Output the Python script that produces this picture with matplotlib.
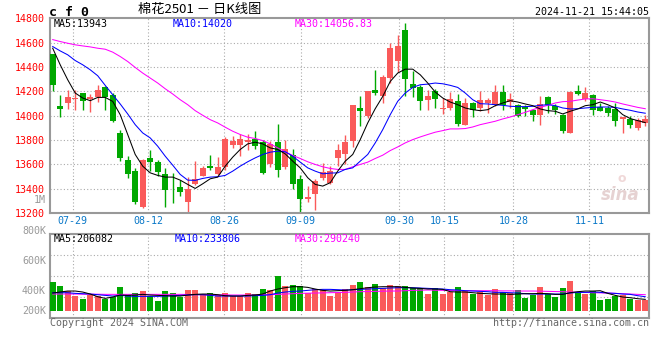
import matplotlib
matplotlib.use('Agg')

import numpy as np
import matplotlib.pyplot as plt

# cotton 2501 daily candles, oldest first (last bar is 2024-11-21)
open_ = [14505, 14080, 14100, 14135, 14184, 14135, 14155, 14237, 14172, 13858,
         13634, 13544, 13249, 13650, 13615, 13520, 13392, 13414, 13290, 13435,
         13505, 13585, 13520, 13580, 13760, 13760, 13785, 13812, 13780, 13600,
         13782, 13575, 13675, 13477, 13316, 13360, 13488, 13450, 13650, 13685,
         13790, 14063, 13995, 14213, 14164, 14309, 14453, 14704, 14262, 14232,
         14126, 14205, 14052, 14060, 14123, 13926, 14104, 14060, 14101, 14090,
         14194, 14109, 14090, 14071, 14044, 14008, 14156, 14082, 14008, 13855,
         14205, 14139, 14172, 14068, 14063, 14055, 13973, 13976, 13899, 13940]
high = [14510, 14170, 14212, 14210, 14190, 14180, 14250, 14240, 14186, 13885,
        13667, 13571, 13645, 13715, 13635, 13568, 13525, 13475, 13495, 13625,
        13585, 13675, 13662, 13822, 13835, 13853, 13850, 13875, 13800, 13795,
        13935, 13800, 13722, 13510, 13420, 13478, 13607, 13585, 13770, 13840,
        14090, 14158, 14200, 14377, 14336, 14601, 14664, 14765, 14363, 14249,
        14208, 14221, 14145, 14194, 14180, 14145, 14109, 14205, 14145, 14254,
        14249, 14186, 14095, 14090, 14058, 14164, 14160, 14096, 14014, 14200,
        14254, 14237, 14175, 14104, 14077, 14104, 13988, 13995, 13981, 14008]
low = [14205, 13988, 14056, 14048, 14045, 14030, 14115, 14045, 13950, 13631,
       13490, 13271, 13245, 13545, 13505, 13252, 13283, 13338, 13200, 13430,
       13503, 13557, 13510, 13552, 13738, 13670, 13720, 13730, 13520, 13580,
       13495, 13560, 13400, 13210, 13290, 13225, 13470, 13440, 13585, 13600,
       13740, 13918, 13981, 14167, 14104, 14268, 14358, 14164, 14150, 14049,
       14044, 14063, 14014, 14049, 13918, 13925, 13986, 14036, 14022, 14077,
       14044, 14063, 13992, 13995, 13959, 13926, 14022, 14014, 13861, 13855,
       14167, 14123, 14008, 14036, 13995, 13918, 13858, 13899, 13880, 13913]
close = [14249, 14058, 14156, 14145, 14120, 14150, 14210, 14155, 13955, 13648,
         13522, 13290, 13634, 13622, 13538, 13385, 13385, 13375, 13400, 13483,
         13566, 13572, 13574, 13805, 13793, 13810, 13800, 13750, 13530, 13765,
         13550, 13722, 13442, 13313, 13332, 13462, 13540, 13548, 13720, 13785,
         14085, 14036, 14199, 14186, 14314, 14560, 14573, 14300, 14227, 14117,
         14164, 14137, 14066, 14137, 13934, 14101, 14047, 14131, 14131, 14194,
         14090, 14139, 14000, 14052, 14008, 14098, 14090, 14044, 13877, 14197,
         14180, 14187, 14044, 14041, 14022, 13954, 13986, 13921, 13962, 13973]

# moving averages as drawn on the chart
ma5 = [14554, 14418, 14295, 14186, 14145, 14123, 14150, 14150, 14117, 14008,
       13845, 13681, 13585, 13530, 13509, 13495, 13495, 13470, 13435, 13402,
       13440, 13481, 13495, 13585, 13659, 13722, 13768, 13782, 13768, 13735,
       13722, 13686, 13626, 13571, 13490, 13435, 13421, 13449, 13544, 13626,
       13681, 13803, 13940, 14057, 14158, 14281, 14350, 14382, 14382, 14336,
       14268, 14194, 14145, 14112, 14090, 14063, 14049, 14041, 14049, 14082,
       14104, 14123, 14112, 14096, 14082, 14055, 14041, 14036, 14014, 14036,
       14055, 14082, 14090, 14112, 14090, 14063, 14008, 13976, 13959, 13943]
ma10 = [14568, 14532, 14500, 14453, 14418, 14377, 14328, 14249, 14172, 14096,
        14014, 13926, 13858, 13817, 13749, 13667, 13593, 13517, 13470, 13468,
        13484, 13495, 13498, 13509, 13544, 13585, 13621, 13653, 13681, 13700,
        13708, 13703, 13667, 13618, 13571, 13544, 13522, 13528, 13530, 13558,
        13571, 13626, 13681, 13776, 13885, 14008, 14118, 14186, 14232, 14254,
        14259, 14268, 14262, 14249, 14232, 14186, 14131, 14098, 14096, 14090,
        14085, 14077, 14074, 14074, 14077, 14085, 14090, 14082, 14063, 14055,
        14057, 14063, 14068, 14071, 14071, 14068, 14055, 14044, 14030, 14020]
ma30 = [14625, 14609, 14595, 14582, 14573, 14565, 14554, 14546, 14522, 14486,
        14445, 14396, 14350, 14309, 14268, 14221, 14178, 14131, 14090, 14041,
        14003, 13967, 13940, 13905, 13872, 13845, 13823, 13812, 13795, 13768,
        13735, 13703, 13673, 13648, 13621, 13599, 13580, 13566, 13558, 13558,
        13580, 13599, 13618, 13648, 13675, 13713, 13743, 13776, 13803, 13825,
        13845, 13864, 13877, 13891, 13891, 13894, 13907, 13926, 13940, 13954,
        13973, 13989, 14008, 14027, 14049, 14068, 14085, 14104, 14115, 14118,
        14128, 14137, 14139, 14131, 14123, 14112, 14096, 14082, 14068, 14057]

# volume (lots)
volume = [478000, 408000, 325000, 248000, 193000, 252000, 243000, 198000, 219000, 391000,
          264000, 297000, 325000, 243000, 165000, 325000, 297000, 219000, 342000, 342000,
          276000, 297000, 259000, 297000, 243000, 236000, 297000, 276000, 358000, 342000,
          578000, 408000, 429000, 413000, 285000, 351000, 342000, 248000, 285000, 351000,
          424000, 474000, 396000, 441000, 368000, 424000, 408000, 408000, 368000, 380000,
          276000, 368000, 276000, 314000, 391000, 325000, 276000, 314000, 252000, 358000,
          309000, 285000, 335000, 210000, 252000, 384000, 276000, 226000, 368000, 490000,
          314000, 276000, 325000, 177000, 193000, 243000, 259000, 198000, 177000, 177000]
vol_ma5 = [291500, 308000, 324500, 324500, 308000, 275000, 231000, 203500, 225500, 258500,
           253000, 258500, 269500, 258500, 253000, 247500, 242000, 242000, 258500, 269500,
           275000, 275000, 264000, 247500, 242000, 242000, 253000, 258500, 275000, 324500,
           357500, 379500, 396000, 396000, 385000, 357500, 335500, 324500, 330000, 335500,
           346500, 363000, 379500, 390500, 396000, 396000, 396000, 385000, 374000, 368500,
           357500, 357500, 352000, 313500, 308000, 308000, 297000, 286000, 280500, 275000,
           275000, 269500, 275000, 280500, 280500, 286000, 280500, 269500, 269500, 297000,
           313500, 324500, 324500, 330000, 286000, 253000, 225500, 214500, 198000, 187000]
vol_ma10 = [297000, 297000, 297000, 286000, 280500, 275000, 264000, 253000, 242000, 253000,
            242000, 236500, 236500, 236500, 236500, 242000, 247500, 253000, 258500, 264000,
            264000, 253000, 242000, 242000, 242000, 242000, 242000, 247500, 253000, 264000,
            291500, 308000, 319000, 324500, 335500, 346500, 352000, 352000, 346500, 341000,
            346500, 352000, 357500, 363000, 368500, 374000, 379500, 379500, 379500, 374000,
            368500, 363000, 357500, 346500, 341000, 330000, 324500, 319000, 313500, 302500,
            302500, 297000, 291500, 280500, 275000, 275000, 275000, 275000, 275000, 291500,
            302500, 302500, 308000, 302500, 291500, 286000, 275000, 269500, 247500, 231000]
vol_ma30 = [275000, 275000, 275000, 275000, 272000, 272000, 272000, 269500, 269500, 269500,
            269500, 269500, 269500, 269500, 269500, 269500, 269500, 269500, 267000, 267000,
            264000, 264000, 261000, 261000, 258500, 258500, 258500, 261000, 264000, 264000,
            269500, 275000, 280500, 286000, 289000, 291500, 294000, 297000, 300000, 302500,
            308000, 313500, 316000, 319000, 322000, 324500, 324500, 330000, 335500, 338000,
            341000, 338000, 335500, 333000, 330000, 330000, 330000, 330000, 330000, 330000,
            327000, 327000, 324500, 324500, 324500, 322000, 319000, 316000, 313500, 308000,
            305000, 302500, 297000, 294000, 291500, 286000, 280500, 275000, 269500, 264000]

date_labels = ['07-29', '08-12', '08-26', '09-09', '09-30', '10-15', '10-28', '11-11']
date_pos = [2.67, 12.75, 22.88, 33.07, 46.21, 52.21, 61.41, 71.55]
price_ticks = [13200, 13400, 13600, 13800, 14000, 14200, 14400, 14600, 14800]
vol_labels = ['1M', '800K', '600K', '400K', '200K']

RED = '#fa5a5a'
GREEN = '#00a800'
GRID = '#aaaaaa'
FRAME = '#999999'
MONO = 'DejaVu Sans Mono'

plt.rcParams['font.family'] = MONO

W, H = 660, 360
fig = plt.figure(figsize=(W / 100, H / 100), dpi=100)
fig.patch.set_facecolor('white')


def box(l, t, r, b):
    return [l / W, 1 - b / H, (r - l) / W, (b - t) / H]


def ftext(px, py, s, **kw):
    fig.text(px / W, 1 - py / H, s, va='center', **kw)


x = np.arange(len(close))
o, hi, lo, c = map(np.asarray, (open_, high, low, close))
colors = np.where(c >= o, RED, GREEN)

# ---- price panel
ax = fig.add_axes(box(50, 18.3, 649, 213))
for p in date_pos:
    ax.axvline(p, color=GRID, lw=0.8, ls=(0, (1, 2)), zorder=1)
for t in price_ticks[1:-1]:
    ax.axhline(t, color=GRID, lw=0.8, ls=(0, (1, 2)), zorder=1)

ax.vlines(x, lo, hi, colors=colors, lw=1, zorder=2)
ax.bar(x, np.maximum(np.abs(c - o), 7), bottom=np.minimum(o, c), width=0.78,
       color=colors, lw=0, zorder=3)
ax.plot(x, ma30, color='#ff00ff', lw=0.75, zorder=4)
ax.plot(x, ma10, color='#0000ff', lw=0.75, zorder=5)
ax.plot(x, ma5, color='black', lw=0.75, zorder=6)

ax.set_xlim(-0.36, 79.5)
ax.set_ylim(13200, 14800)
ax.set_xticks([])
ax.set_yticks(price_ticks)
ax.set_yticklabels([str(t) for t in price_ticks])
ax.tick_params(axis='y', length=0, pad=4, labelcolor='#ff0000', labelsize=7.2)
for s in ax.spines.values():
    s.set_color(FRAME)
    s.set_linewidth(1.5)

for p, s in zip(date_pos, date_labels):
    ax.text(p, -0.041, s, transform=ax.get_xaxis_transform(), ha='center',
            va='center', color='#0a78c8', fontsize=7.2)

# faint watermark
ax.text(0.985, 0.09, 'sina', transform=ax.transAxes, ha='right', va='center',
        fontsize=12, style='italic', weight='bold', color='#e6d2d2',
        family='DejaVu Sans')
ax.text(0.955, 0.175, 'o', transform=ax.transAxes, ha='center', va='center',
        fontsize=9, weight='bold', color='#f0d8d8', family='DejaVu Sans')

# ---- volume panel
axv = fig.add_axes(box(50, 234.3, 649, 317.7))
for p in date_pos:
    axv.axvline(p, color=GRID, lw=0.8, ls=(0, (1, 2)), zorder=1)
for f in (0.25, 0.5, 0.75):
    axv.plot([0, 1], [f, f], transform=axv.transAxes, color=GRID, lw=0.8,
             ls=(0, (1, 2)), zorder=1)
axv.bar(x, volume, width=0.8, color=colors, lw=0, zorder=3)
axv.plot(x, vol_ma30, color='#ff00ff', lw=0.75, zorder=4)
axv.plot(x, vol_ma10, color='#0000ff', lw=0.75, zorder=5)
axv.plot(x, vol_ma5, color='black', lw=0.75, zorder=6)
axv.set_xlim(-0.36, 79.5)
axv.set_ylim(-115500, 1260600)
axv.set_xticks([])
axv.set_yticks([])
for s in axv.spines.values():
    s.set_color(FRAME)
    s.set_linewidth(1.5)

# ---- texts
ftext(49, 12, 'c f 0', fontsize=9.5, weight='bold', color='black')
ftext(200, 10, '棉花2501 － 日K线图', ha='center', fontsize=9.5,
      family=['Noto Sans CJK SC', 'DejaVu Sans'], color='black')
ftext(649, 12, '2024-11-21 15:44:05', ha='right', fontsize=7.2, color='black')

ftext(54, 24, 'MA5:13943', fontsize=7.2, color='black')
ftext(173, 24, 'MA10:14020', fontsize=7.2, color='#0000ff')
ftext(294.5, 24, 'MA30:14056.83', fontsize=7.2, color='#ff00ff')

ftext(54, 238.5, 'MA5:206082', fontsize=7.2, color='black')
ftext(175, 238.5, 'MA10:233806', fontsize=7.2, color='#0000ff')
ftext(294.5, 238.5, 'MA30:290240', fontsize=7.2, color='#ff00ff')

for py, s in zip([200, 231, 260.7, 290.7, 310.7], vol_labels):
    ftext(46, py, s, ha='right', fontsize=7.2, color='#999999')

ftext(50, 323.5, 'Copyright 2024 SINA.COM', fontsize=7.2, color='#666666')
ftext(649, 323.5, 'http://finance.sina.com.cn', ha='right', fontsize=7.2,
      color='#666666')

fig.savefig('out.png', dpi=100, facecolor='white')
